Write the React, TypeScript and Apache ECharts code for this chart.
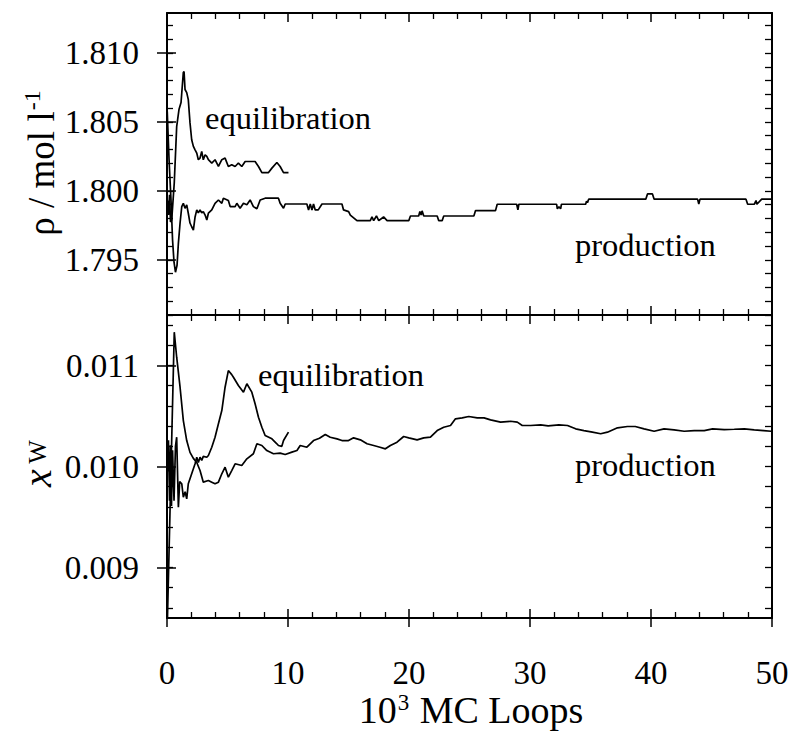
import React, { useEffect, useRef } from "react";
import * as echarts from "echarts";

// ---------- data (x in 10^3 MC loops) ----------
const rhoEquilibration: [number, number][] = [
  [0.04, 1.7993], [0.12, 1.79825], [0.21, 1.79971], [0.29, 1.79774], [0.39, 1.79789],
  [0.6, 1.80058], [0.8, 1.80466], [0.99, 1.8059], [1.16, 1.80641], [1.35, 1.80859],
  [1.41, 1.80866], [1.49, 1.80735], [1.63, 1.80713], [1.76, 1.80662], [1.9, 1.80495],
  [2.04, 1.80371], [2.18, 1.80323], [2.32, 1.80298], [2.46, 1.80274], [2.59, 1.80226],
  [2.73, 1.80238], [2.87, 1.80286], [3.0, 1.80226], [3.15, 1.80262], [3.29, 1.8025],
  [3.42, 1.80226], [3.7, 1.80202], [3.97, 1.80226], [4.25, 1.80177], [4.53, 1.80226],
  [4.8, 1.80238], [5.07, 1.80177], [5.35, 1.8019], [5.63, 1.80177], [5.9, 1.80202],
  [6.18, 1.80177], [6.46, 1.80213], [7.28, 1.80213], [7.56, 1.80177], [7.84, 1.80133],
  [8.39, 1.80133], [8.67, 1.80165], [9.08, 1.80206], [9.35, 1.80177], [9.63, 1.80133],
  [10.04, 1.80133],
];

const rhoProduction: [number, number][] = [
  [0.02, 1.80575], [0.17, 1.80226], [0.33, 1.79934], [0.46, 1.79643], [0.58, 1.79483],
  [0.7, 1.7941], [0.83, 1.79461], [0.94, 1.79619], [1.08, 1.79767], [1.22, 1.79886],
  [1.35, 1.7991], [1.49, 1.79874], [1.63, 1.79898], [1.76, 1.79838], [1.9, 1.79767],
  [2.04, 1.7974], [2.18, 1.79716], [2.32, 1.79811], [2.46, 1.79862], [2.59, 1.7984],
  [2.73, 1.79862], [2.87, 1.7984], [3.0, 1.7985], [3.15, 1.79825], [3.29, 1.79789],
  [3.42, 1.79838], [3.7, 1.79862], [3.97, 1.7991], [4.25, 1.79934], [4.53, 1.7991],
  [4.66, 1.79947], [5.07, 1.7993], [5.22, 1.79886], [5.63, 1.79886], [5.77, 1.7991],
  [6.04, 1.79874], [6.32, 1.7991], [6.6, 1.799], [6.87, 1.79934], [7.14, 1.79886],
  [7.43, 1.7987], [7.7, 1.79934], [8.11, 1.79947], [9.21, 1.79947], [9.35, 1.7991],
  [9.63, 1.79874], [9.77, 1.79905], [11.56, 1.79905], [11.7, 1.79862], [11.84, 1.79905],
  [11.98, 1.79862], [12.11, 1.79905], [12.25, 1.79862], [12.5, 1.79862], [12.81, 1.79905],
  [14.46, 1.79905], [14.59, 1.79862], [15.01, 1.7985], [15.15, 1.79825], [15.7, 1.79784],
  [16.8, 1.79784], [16.94, 1.79811], [17.08, 1.79784], [17.31, 1.79818], [17.5, 1.79784],
  [17.9, 1.79811], [18.19, 1.79784], [19.98, 1.79784], [20.12, 1.79818], [20.8, 1.79818],
  [20.9, 1.7985], [21.0, 1.79825], [21.08, 1.79855], [21.22, 1.79818], [22.33, 1.79818],
  [22.46, 1.79784], [22.74, 1.79784], [22.87, 1.79818], [25.36, 1.79818], [25.5, 1.79857],
  [27.15, 1.79857], [27.29, 1.79903], [28.9, 1.79903], [29.0, 1.79862], [29.08, 1.79903],
  [32.2, 1.79903], [32.26, 1.7987], [32.39, 1.79885], [32.53, 1.7987], [32.6, 1.79903],
  [34.6, 1.79903], [34.67, 1.79925], [34.75, 1.79915], [34.85, 1.7994], [39.57, 1.7994],
  [39.71, 1.79978], [40.12, 1.79978], [40.26, 1.7994], [43.85, 1.7994], [43.95, 1.79905],
  [44.05, 1.7994], [47.85, 1.7994], [47.99, 1.79903], [48.53, 1.79903], [48.68, 1.7993],
  [48.75, 1.79903], [49.15, 1.7994], [50.0, 1.7994],
];

const xwEquilibration: [number, number][] = [
  [0.04, 0.00995], [0.12, 0.01026], [0.21, 0.00966], [0.29, 0.01021], [0.37, 0.00961],
  [0.46, 0.01016], [0.58, 0.00966], [0.7, 0.0102], [0.8, 0.01029], [0.94, 0.009597],
  [1.05, 0.00985], [1.22, 0.009829], [1.35, 0.009696], [1.5, 0.00975], [1.63, 0.00968],
  [1.76, 0.009829], [2.04, 0.009928], [2.32, 0.010027], [2.46, 0.010092], [2.59, 0.01004],
  [2.73, 0.010092], [2.87, 0.01006], [3.0, 0.0101], [3.29, 0.010092], [3.42, 0.010109],
  [3.7, 0.010191], [3.97, 0.01029], [4.25, 0.010423], [4.53, 0.010554], [4.8, 0.010785],
  [5.07, 0.01095], [5.35, 0.01091], [5.49, 0.010884], [5.9, 0.010802], [6.32, 0.010736],
  [6.6, 0.010819], [7.01, 0.010736], [7.28, 0.010621], [7.56, 0.010488], [7.84, 0.010389],
  [8.11, 0.010307], [8.67, 0.010274], [9.08, 0.010225], [9.21, 0.010208], [9.49, 0.0102],
  [9.63, 0.010257], [10.04, 0.01034],
];

const xwProduction: [number, number][] = [
  [0.04, 0.008505], [0.6, 0.01133], [0.8, 0.011082], [1.08, 0.010785], [1.35, 0.010455],
  [1.63, 0.010257], [1.9, 0.01014], [2.18, 0.01008], [2.46, 0.01004], [2.73, 0.00996],
  [3.0, 0.009845], [3.42, 0.009861], [3.7, 0.009845], [3.97, 0.009829], [4.25, 0.009845],
  [4.53, 0.009928], [4.8, 0.009993], [5.07, 0.009894], [5.35, 0.00996], [5.63, 0.010027],
  [6.18, 0.01001], [6.6, 0.010076], [7.14, 0.010126], [7.43, 0.010225], [7.84, 0.010208],
  [8.25, 0.010158], [8.8, 0.010126], [9.35, 0.010132], [9.77, 0.010119], [10.32, 0.010142],
  [10.74, 0.010158], [11.01, 0.010208], [11.56, 0.010191], [12.11, 0.010257], [12.6, 0.01028],
  [13.08, 0.010317], [13.49, 0.01029], [14.05, 0.010274], [14.46, 0.010257], [15.0, 0.010257],
  [15.42, 0.010284], [15.98, 0.010264], [16.53, 0.010225], [17.08, 0.010208], [17.6, 0.010191],
  [18.05, 0.010175], [18.46, 0.010208], [19.01, 0.010241], [19.56, 0.010297], [19.98, 0.010284],
  [20.67, 0.010264], [21.22, 0.010284], [21.77, 0.01029], [22.33, 0.010356], [22.87, 0.010389],
  [23.43, 0.010406], [23.84, 0.010472], [24.4, 0.010482], [24.94, 0.010495], [25.64, 0.010482],
  [26.2, 0.010482], [26.74, 0.010462], [27.57, 0.010439], [28.39, 0.010448], [28.95, 0.010439],
  [29.36, 0.010406], [30.05, 0.010406], [30.88, 0.010413], [31.5, 0.010403], [32.39, 0.010413],
  [33.1, 0.010406], [33.77, 0.010373], [34.46, 0.010356], [35.16, 0.01034], [35.84, 0.010324],
  [36.4, 0.01034], [37.23, 0.010383], [38.05, 0.010396], [38.7, 0.010396], [39.43, 0.010373],
  [40.26, 0.010349], [41.08, 0.010373], [41.91, 0.010363], [42.74, 0.010349], [43.57, 0.010356],
  [44.4, 0.010356], [45.09, 0.010373], [46.05, 0.010366], [46.88, 0.010369], [47.71, 0.010373],
  [48.53, 0.010363], [49.3, 0.010356], [49.92, 0.010349],
];

// ---------- axes ----------
const xRange = [0, 50];
const xMajorStep = 10;
const rhoRange = [1.791, 1.8129];
const rhoTicks = [1.795, 1.8, 1.805, 1.81];
const rhoMinorStep = 0.001;
const xwRange = [0.0085, 0.0115];
const xwTicks = [0.009, 0.01, 0.011];
const xwMinorStep = 0.0002;

const FONT = '"Liberation Serif", "Times New Roman", serif';

function stepValues(min: number, max: number, step: number): number[] {
  const out: number[] = [];
  const start = Math.ceil(min / step - 1e-6);
  for (let k = start; k * step <= max + 1e-9; k++) out.push(Number((k * step).toFixed(6)));
  return out;
}

export default function App() {
  const ref = useRef<HTMLDivElement>(null);

  useEffect(() => {
    if (!ref.current) return;
    const chart = echarts.init(ref.current, undefined, { renderer: "svg" });

    const black = "#000";
    const xInside = (gridIndex: number, position: string, labels: boolean) => ({
      type: "value",
      gridIndex,
      position,
      min: xRange[0],
      max: xRange[1],
      interval: xMajorStep,
      axisLine: { show: true, onZero: false, lineStyle: { color: black, width: 2 } },
      axisTick: { show: true, inside: true, length: 9, lineStyle: { color: black, width: 1.5 } },
      minorTick: { show: true, splitNumber: 5, length: 6, lineStyle: { color: black, width: 1.3 } },
      axisLabel: labels
        ? { show: true, fontSize: 33, fontFamily: FONT, color: black, margin: 38 }
        : { show: false },
      splitLine: { show: false },
      minorSplitLine: { show: false },
    });
    const xOut = (gridIndex: number) => ({
      type: "value",
      gridIndex,
      position: "bottom",
      min: xRange[0],
      max: xRange[1],
      interval: xMajorStep,
      axisLine: { show: false },
      axisTick: { show: true, inside: false, length: 9, lineStyle: { color: black, width: 1.5 } },
      axisLabel: { show: false },
      splitLine: { show: false },
    });

    const yAxesFor = (gridIndex: number, range: number[], majors: number[], step: number, digits: number) => {
      const minors = stepValues(range[0], range[1], step);
      const base = { type: "value", gridIndex, min: range[0], max: range[1], splitLine: { show: false } };
      return [
        {
          ...base,
          position: "left",
          axisLine: { show: true, onZero: false, lineStyle: { color: black, width: 2 } },
          axisTick: { show: true, inside: true, length: 9, customValues: majors, lineStyle: { color: black, width: 1.5 } },
          axisLabel: {
            show: true,
            customValues: majors,
            formatter: (v: number) => v.toFixed(digits),
            fontSize: 33,
            fontFamily: FONT,
            color: black,
            margin: 28,
          },
        },
        {
          ...base,
          position: "left",
          axisLine: { show: false },
          axisTick: { show: true, inside: false, length: 10, customValues: majors, lineStyle: { color: black, width: 1.5 } },
          axisLabel: { show: false },
        },
        {
          ...base,
          position: "left",
          axisLine: { show: false },
          axisTick: { show: true, inside: true, length: 6, customValues: minors, lineStyle: { color: black, width: 1.3 } },
          axisLabel: { show: false },
        },
        {
          ...base,
          position: "right",
          axisLine: { show: true, onZero: false, lineStyle: { color: black, width: 2 } },
          axisTick: { show: true, inside: true, length: 7, customValues: minors, lineStyle: { color: black, width: 1.3 } },
          axisLabel: { show: false },
        },
      ];
    };

    const lineSeries = (data: [number, number][], xAxisIndex: number, yAxisIndex: number) => ({
      type: "line",
      data,
      xAxisIndex,
      yAxisIndex,
      showSymbol: false,
      symbol: "none",
      lineStyle: { color: black, width: 1.7 },
      silent: true,
      clip: true,
    });

    const label = (text: string, left: number, y: number) => ({
      type: "text",
      x: left,
      y,
      style: { text, font: `32.5px ${FONT}`, fill: black, textAlign: "left", textVerticalAlign: "middle" },
    });

    const option: any = {
      animation: false,
      backgroundColor: "#fff",
      grid: [
        { left: 167, top: 13, width: 605, height: 302 },
        { left: 167, top: 315, width: 605, height: 303 },
      ],
      xAxis: [
        xInside(0, "bottom", false),
        xInside(0, "top", false),
        xInside(1, "bottom", true),
        xOut(1),
        xInside(1, "top", false),
      ],
      yAxis: [
        ...yAxesFor(0, rhoRange, rhoTicks, rhoMinorStep, 3),
        ...yAxesFor(1, xwRange, xwTicks, xwMinorStep, 3),
      ],
      series: [
        lineSeries(rhoEquilibration, 0, 0),
        lineSeries(rhoProduction, 0, 0),
        lineSeries(xwEquilibration, 2, 4),
        lineSeries(xwProduction, 2, 4),
      ],
      graphic: [
        label("equilibration", 205, 118),
        label("production", 575, 245),
        label("equilibration", 258, 375),
        label("production", 575, 465),
        {
          type: "text",
          x: 40,
          y: 163,
          rotation: Math.PI / 2,
          style: {
            text: "{a|ρ / mol l}{s|-1}",
            textAlign: "center",
            textVerticalAlign: "middle",
            fill: black,
            rich: {
              a: { fontSize: 37, fontFamily: FONT, lineHeight: 40, verticalAlign: "bottom", fill: black },
              s: { fontSize: 24, fontFamily: FONT, lineHeight: 24, verticalAlign: "top", padding: [0, 0, 18, 1], fill: black },
            },
          },
        },
        {
          type: "text",
          x: 37,
          y: 478,
          rotation: Math.PI / 2,
          style: {
            text: "x",
            font: `italic 40px ${FONT}`,
            fill: black,
            textAlign: "center",
            textVerticalAlign: "middle",
          },
        },
        {
          type: "text",
          x: 37,
          y: 452,
          rotation: Math.PI / 2,
          style: {
            text: "W",
            font: `25px ${FONT}`,
            fill: black,
            textAlign: "center",
            textVerticalAlign: "middle",
          },
        },
        {
          type: "text",
          x: 471,
          y: 710,
          style: {
            text: "{a|10}{s|3}{a| MC Loops}",
            textAlign: "center",
            textVerticalAlign: "middle",
            fill: black,
            rich: {
              a: { fontSize: 38, fontFamily: FONT, lineHeight: 38, verticalAlign: "bottom", fill: black },
              s: { fontSize: 23, fontFamily: FONT, lineHeight: 22, verticalAlign: "top", padding: [0, 1, 14, 1], fill: black },
            },
          },
        },
      ],
    };

    chart.setOption(option);
    return () => chart.dispose();
  }, []);

  return (
    <div
      ref={ref}
      style={{ position: "fixed", left: 0, top: 0, width: 794, height: 734, background: "#fff" }}
    />
  );
}
